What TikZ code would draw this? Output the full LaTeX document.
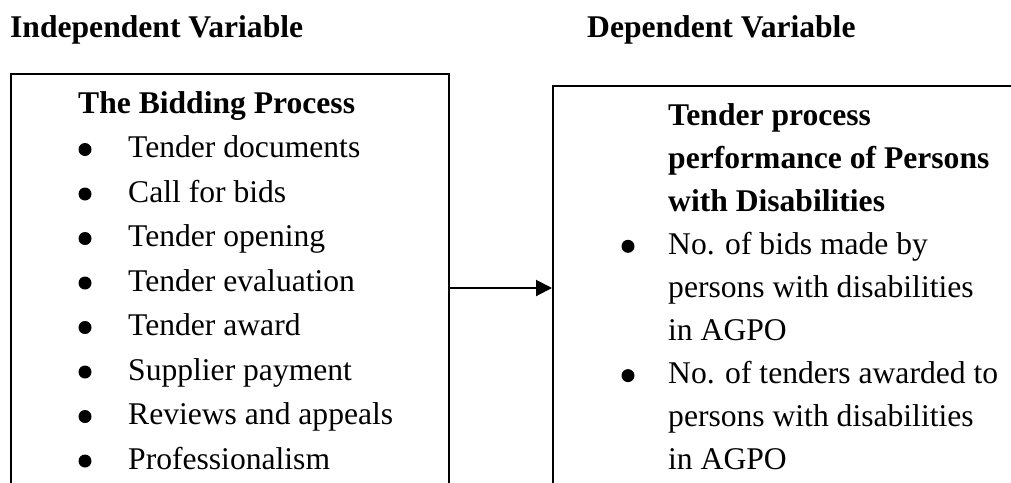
\documentclass[tikz,border=0pt]{standalone}
\usepackage{fontspec}
\setmainfont{Liberation Serif}
\usetikzlibrary{arrows.meta}
\begin{document}
\begin{tikzpicture}[x=1pt,y=-1pt,
  txt/.style={anchor=base west,inner sep=0pt,font=\fontsize{31.6}{44}\selectfont},
  hd/.style={txt,font=\fontsize{31.6}{44}\selectfont\bfseries},
  bul/.style={circle,fill=black,inner sep=0pt,minimum size=13pt},
  box/.style={draw=black,line width=2pt,anchor=north west,inner sep=0pt},
  arr/.style={line width=2pt,-{Triangle[length=16pt,width=16pt]}}]
\useasboundingbox (0,0) rectangle (1011,482);
\clip (0,0) rectangle (1011,482);
% headings
\node[hd] (iv) at (10,37) {Independent Variable};
\node[hd] (dv) at (587,37) {Dependent Variable};
% boxes
\node[box,minimum width=438pt,minimum height=440pt] (lbox) at (10,73) {};
\node[box,minimum width=480pt,minimum height=440pt] (rbox) at (552,85) {};
% left content
\node[hd] (lt) at (78,113) {The Bidding Process};
\foreach \i/\t in {0/Tender documents,1/Call for bids,2/Tender opening,3/Tender evaluation,4/Tender award,5/Supplier payment,6/Reviews and appeals,7/Professionalism}{
  \node[txt] (l\i) at (128,157.5+44.5*\i) {\t};
  \node[bul] (lb\i) at (85,149.5+44.5*\i) {};
}
% right content
\node[hd] (rt1) at (668,125) {Tender process};
\node[hd] (rt2) at (668,168.1) {performance of Persons};
\node[hd] (rt3) at (668,211.2) {with Disabilities};
\node[txt] (r1) at (668,254.3) {No. of bids made by};
\node[txt] (r2) at (668,297.4) {persons with disabilities};
\node[txt] (r3) at (668,340.5) {in AGPO};
\node[txt] (r4) at (668,383.6) {No. of tenders awarded to};
\node[txt] (r5) at (668,426.7) {persons with disabilities};
\node[txt] (r6) at (668,469.8) {in AGPO};
\node[bul] (rb1) at (628,246.3) {};
\node[bul] (rb2) at (628,375.6) {};
% arrow
\draw[arr] (lbox.east |- 0,288) -- (rbox.west |- 0,288);
\end{tikzpicture}
\end{document}
